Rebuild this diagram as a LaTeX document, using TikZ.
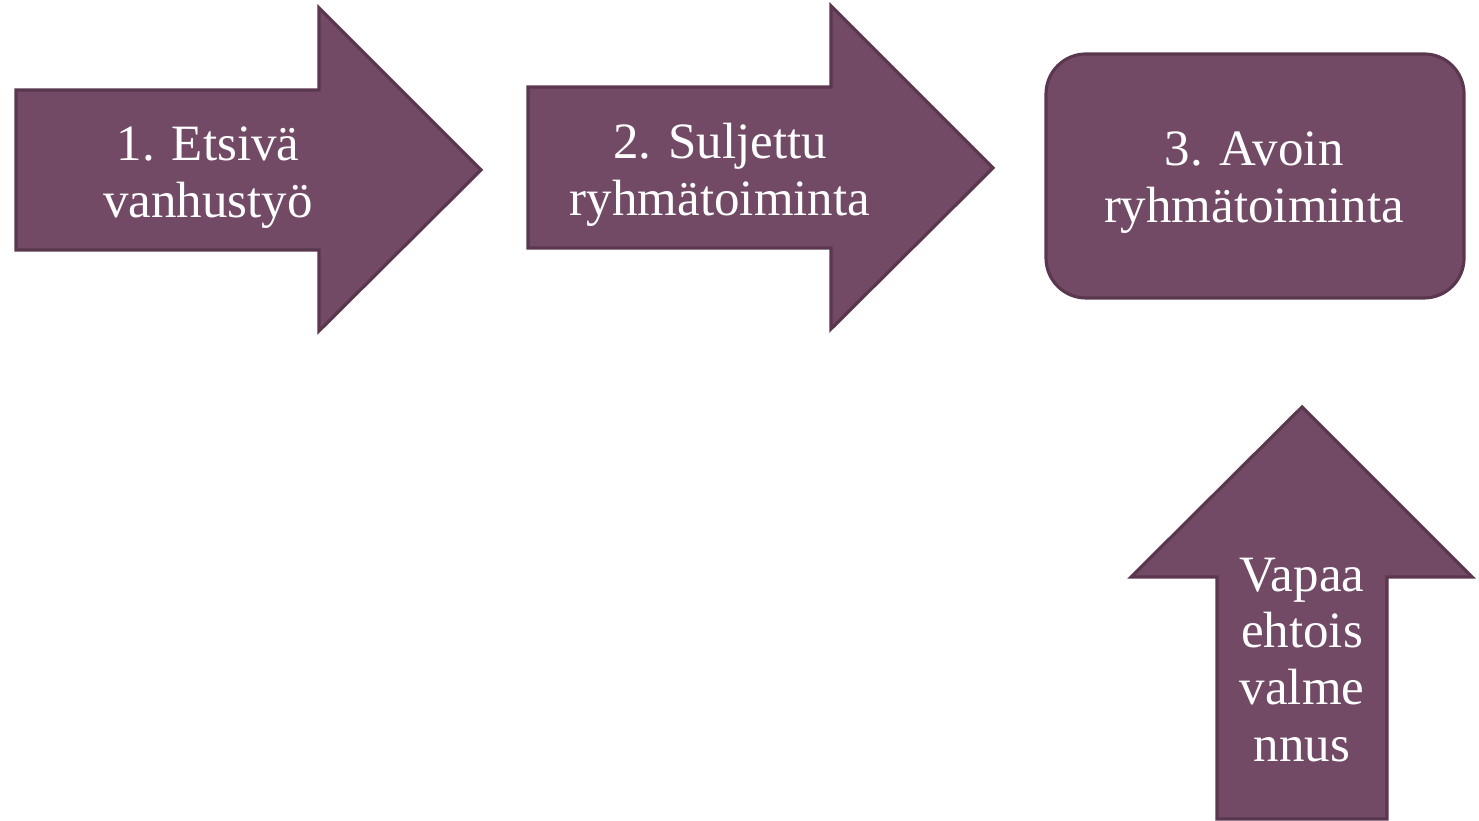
\documentclass[tikz,border=0pt]{standalone}
\usepackage{fontspec}
\setmainfont{Liberation Serif}
\usetikzlibrary{positioning}
\definecolor{plum}{RGB}{115,74,101}
\definecolor{plumdark}{RGB}{90,55,78}
\tikzset{
  shapefill/.style={fill=plum, draw=plumdark, line width=0.9pt, line join=miter},
  steptext/.style={text=white, align=center, font=\fontsize{14.5}{16.2}\selectfont, inner sep=0pt},
  roundbox/.style={shapefill, rounded corners=0.4cm, minimum width=4.18cm, minimum height=2.44cm}
}
\begin{document}
\begin{tikzpicture}[x=1cm, y=1cm]
  \useasboundingbox (0,0) rectangle (14.79,8.21);
  % step 1 arrow
  \draw[shapefill] (0.16,7.31) -- (3.19,7.31) -- (3.19,8.13) -- (4.81,6.51)
    -- (3.19,4.90) -- (3.19,5.71) -- (0.16,5.71) -- cycle;
  \node[steptext] (etsiva) at (2.08,6.43) {1. Etsivä\\vanhustyö};
  % step 2 arrow
  \draw[shapefill] (5.28,7.34) -- (8.31,7.34) -- (8.31,8.15) -- (9.93,6.53)
    -- (8.31,4.92) -- (8.31,5.73) -- (5.28,5.73) -- cycle;
  \node[steptext] (suljettu) at (7.20,6.46) {2. Suljettu\\ryhmätoiminta};
  % step 3 box
  \node[roundbox] (avoin) at (12.55,6.45) {};
  \node[steptext] (avointxt) at (12.54,6.38) {3. Avoin\\ryhmätoiminta};
  % volunteer arrow
  \draw[shapefill] (12.17,0.02) -- (12.17,2.44) -- (11.31,2.44) -- (13.02,4.14)
    -- (14.72,2.44) -- (13.87,2.44) -- (13.87,0.02) -- cycle;
  \node[steptext] (vapaa) at (13.02,1.61) {Vapaa\\ehtois\\valme\\nnus};
\end{tikzpicture}
\end{document}
